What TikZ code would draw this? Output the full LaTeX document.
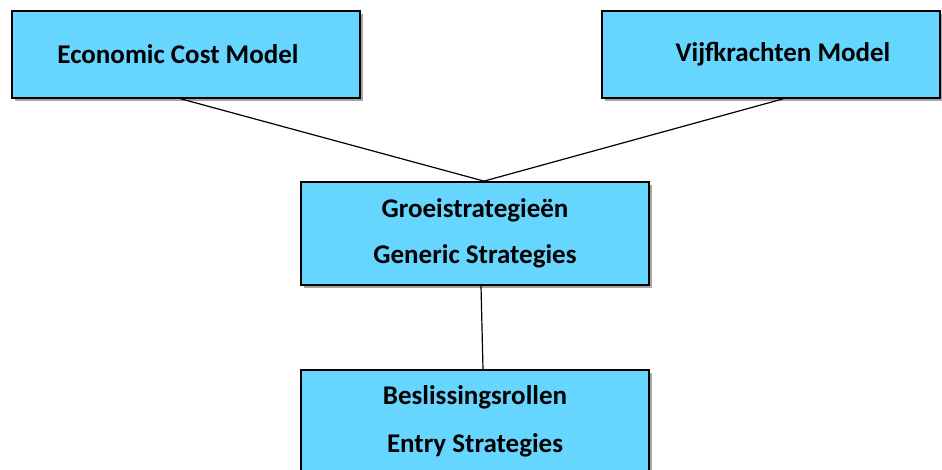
\documentclass[tikz,border=0pt]{standalone}
\usepackage{fontspec}
\setmainfont{Carlito}
\usepackage{xcolor}
\usetikzlibrary{positioning,shadows}
\definecolor{boxblue}{RGB}{102,214,255}

\begin{document}
\begin{tikzpicture}[x=1pt, y=-1pt,
	model/.style = {draw, line width=1.8pt, fill=boxblue, align=center,
		font=\fontsize{27}{33}\selectfont\bfseries, inner sep=0pt,
		drop shadow={shadow xshift=3pt, shadow yshift=-3pt, fill=gray!70, opacity=1}},
	link/.style = {line width=1.2pt}]
	\clip (0,0) rectangle (942,470);
	\node[model, minimum width=348, minimum height=87] (ecm) at (186,54.5) {Economic Cost Model\hspace*{16pt}};
	\node[model, minimum width=338, minimum height=87] (vkm) at (771,54.5) {\hspace*{24pt}Vijfkrachten Model};
	\node[model, minimum width=348, minimum height=103] (grs) at (475,233.5) {Groeistrategieën\\[13pt]Generic Strategies};
	\node[model, minimum width=348, minimum height=103] (bsr) at (475,421.5) {Beslissingsrollen\\[15pt]Entry Strategies};
	\draw[link] ([xshift=-5pt]ecm.south) -- ([xshift=9pt]grs.north);
	\draw[link] ([xshift=12pt]vkm.south) -- ([xshift=9pt]grs.north);
	\draw[link] ([xshift=6pt]grs.south) -- ([xshift=8pt]bsr.north);
\end{tikzpicture}
\end{document}
